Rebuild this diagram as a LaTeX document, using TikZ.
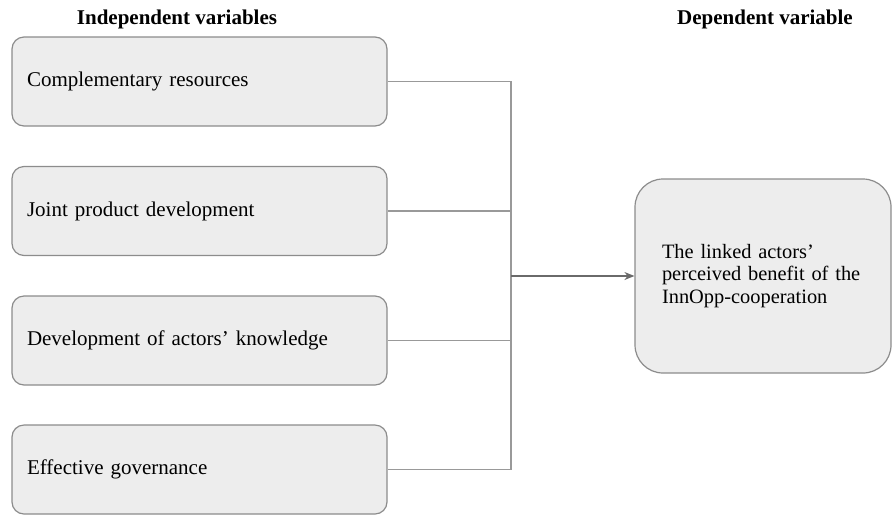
\documentclass[tikz,border=0pt]{standalone}
\usepackage{fontspec}
\setmainfont{Liberation Serif}
\usetikzlibrary{arrows.meta}
\definecolor{boxfill}{HTML}{EDEDED}
\definecolor{boxline}{HTML}{8C8C8C}
\definecolor{linkline}{HTML}{999999}
\definecolor{arrowline}{HTML}{6A6A6A}

\begin{document}
\begin{tikzpicture}[x=0.5pt,y=-0.5pt,
  head/.style={font=\fontsize{10.5pt}{12pt}\selectfont\bfseries},
  var/.style={rectangle, rounded corners=6pt, draw=boxline, fill=boxfill, line width=0.6pt,
              minimum height=44.5pt, inner xsep=7.5pt, text width=172.5pt, align=left,
              font=\fontsize{10.5pt}{12pt}\selectfont},
  dep/.style={rectangle, rounded corners=14pt, draw=boxline, fill=boxfill, line width=0.6pt,
              minimum height=97pt, inner xsep=13.5pt, text width=101pt, align=left,
              font=\fontsize{10.2pt}{11.3pt}\selectfont},
  link/.style={draw=linkline, line width=0.6pt},
  arrow/.style={draw=arrowline, line width=0.7pt, -{Stealth[length=5pt,width=4pt]}}]
\useasboundingbox (0,0) rectangle (892,515);

\node[head] (indep) at (177,19) {Independent variables};
\node[head] (dep) at (765,19) {Dependent variable};

% independent variables
\node[var] (res) at (199.5,81.5) {Complementary resources};
\node[var] (prod) at (199.5,211) {Joint product development};
\node[var] (know) at (199.5,340.5) {Development of actors' knowledge};
\node[var] (gov) at (199.5,469.5) {Effective governance};

% dependent variable
\node[dep] (benefit) at (763,276) {The linked actors'\\perceived benefit of the\\InnOpp-cooperation};

\coordinate (join) at (511,276);
\draw[link] (res.east) -| (join);
\draw[link] (prod.east) -| (join);
\draw[link] (know.east) -| (join);
\draw[link] (gov.east) -| (join);
\draw[arrow] (join) -- (benefit.west);

\end{tikzpicture}
\end{document}
